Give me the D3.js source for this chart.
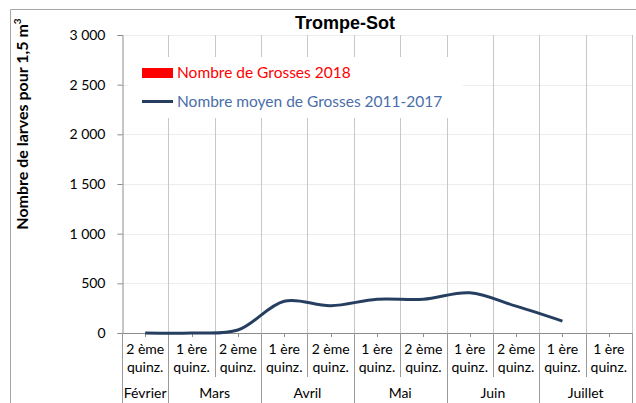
<!DOCTYPE html>
<html>
<head>
<meta charset="utf-8">
<script src="https://cdn.jsdelivr.net/npm/d3@7"></script>
<style>
  html, body { margin: 0; padding: 0; background: #fff; }
  svg { display: block; }
</style>
</head>
<body>
<svg id="chart" width="636" height="403"></svg>
<script>
// Quinzaine labels (first line / second line) for each category
const quinzaines = ["2 ème", "1 ère", "2 ème", "1 ère", "2 ème", "1 ère", "2 ème", "1 ère", "2 ème", "1 ère", "1 ère"];
const quinzSuffix = "quinz.";
// Months grouping the categories
const months = ["Février", "Mars", "Avril", "Mai", "Juin", "Juillet"];
const monthSpans = [1, 2, 2, 2, 2, 2];
// Series
const grosses2018 = [null, null, null, null, null, null, null, null, null, null, null];
const moyenne2011_2017 = [0, 0, 30, 320, 275, 340, 340, 405, 270, 120, null];
// Value axis ticks
const yTicks = [0, 500, 1000, 1500, 2000, 2500, 3000];

(function () {
const svg = d3.select("#chart");
const plotLeft = 122, plotRight = 632, plotTop = 35, plotBottom = 333;

const x = d3.scaleBand().domain(d3.range(quinzaines.length)).range([plotLeft, plotRight]).padding(0);
const y = d3.scaleLinear().domain([0, 3000]).range([plotBottom, plotTop]);

const fr = d3.formatLocale({ decimal: ",", thousands: " ", grouping: [3], currency: ["", " €"] });
const fmt = fr.format(",d");

const labelFont = "Lato, 'DejaVu Sans', sans-serif";

// Outer frame (left and top edges)
svg.append("path")
  .attr("d", "M10.5,410 V9.5 H636")
  .attr("fill", "none").attr("stroke", "#a6a6a6").attr("stroke-width", 1);

// Horizontal gridlines
svg.append("g")
  .selectAll("line").data(yTicks.filter(d => d > 0)).join("line")
  .attr("x1", plotLeft).attr("x2", plotRight)
  .attr("y1", d => Math.round(y(d)) + 0.5).attr("y2", d => Math.round(y(d)) + 0.5)
  .attr("stroke", "#ececec");

// Vertical gridlines at category boundaries
const bounds = d3.range(quinzaines.length + 1).map(i => plotLeft + i * x.bandwidth());
svg.append("g")
  .selectAll("line").data(bounds.slice(1)).join("line")
  .attr("x1", d => Math.round(d) + 0.5).attr("x2", d => Math.round(d) + 0.5)
  .attr("y1", plotTop).attr("y2", plotBottom)
  .attr("stroke", "#c8c8c8");

// Bars for 2018 (categories with a value)
svg.append("g")
  .selectAll("rect").data(grosses2018.map((v, i) => ({ v, i })).filter(d => d.v != null)).join("rect")
  .attr("x", d => x(d.i) + x.bandwidth() * 0.2)
  .attr("width", x.bandwidth() * 0.6)
  .attr("y", d => y(d.v))
  .attr("height", d => y(0) - y(d.v))
  .attr("fill", "#ff0000");

// Value axis
const yAxis = d3.axisLeft(y).tickValues(yTicks).tickFormat(fmt).tickSize(5).tickPadding(12);
const gy = svg.append("g").attr("transform", `translate(${plotLeft + 0.5},0)`).call(yAxis);
gy.select(".domain").attr("stroke", "#8c8c8c");
gy.selectAll(".tick line").attr("stroke", "#8c8c8c");
gy.selectAll(".tick text")
  .attr("font-family", labelFont).attr("font-size", 14).attr("fill", "#000");

// Category axis line and small ticks at category centres
svg.append("line")
  .attr("x1", plotLeft).attr("x2", plotRight)
  .attr("y1", plotBottom + 0.5).attr("y2", plotBottom + 0.5)
  .attr("stroke", "#8c8c8c");
svg.append("g")
  .selectAll("line").data(d3.range(quinzaines.length)).join("line")
  .attr("x1", i => Math.round(x(i) + x.bandwidth() / 2) + 0.5)
  .attr("x2", i => Math.round(x(i) + x.bandwidth() / 2) + 0.5)
  .attr("y1", plotBottom).attr("y2", plotBottom + 4)
  .attr("stroke", "#8c8c8c");

// Separators in the label area
const monthStarts = monthSpans.reduce((acc, s) => { acc.push(acc[acc.length - 1] + s); return acc; }, [0]);
svg.append("g")
  .selectAll("line").data(d3.range(quinzaines.length + 1)).join("line")
  .attr("x1", i => Math.round(bounds[i]) + 0.5).attr("x2", i => Math.round(bounds[i]) + 0.5)
  .attr("y1", plotBottom).attr("y2", i => monthStarts.includes(i) ? 403 : 377)
  .attr("stroke", "#9a9a9a");

// Quinzaine labels
const ql = svg.append("g").attr("font-family", labelFont).attr("font-size", 14)
  .attr("fill", "#000").attr("text-anchor", "middle");
ql.selectAll("text.l1").data(quinzaines).join("text").attr("class", "l1")
  .attr("x", (d, i) => x(i) + x.bandwidth() / 2).attr("y", 354).text(d => d);
ql.selectAll("text.l2").data(quinzaines).join("text").attr("class", "l2")
  .attr("x", (d, i) => x(i) + x.bandwidth() / 2).attr("y", 372).text(quinzSuffix);

// Month labels
ql.selectAll("text.m").data(months).join("text").attr("class", "m")
  .attr("x", (d, i) => (bounds[monthStarts[i]] + bounds[monthStarts[i + 1]]) / 2)
  .attr("y", 398).text(d => d);

// Average line
const line = d3.line()
  .defined(d => d != null)
  .x((d, i) => x(i) + x.bandwidth() / 2)
  .y(d => y(d))
  .curve(d3.curveCatmullRom.alpha(0.5));
svg.append("path")
  .datum(moyenne2011_2017)
  .attr("d", line)
  .attr("fill", "none")
  .attr("stroke", "#263f61")
  .attr("stroke-width", 3)
  .attr("stroke-linecap", "butt");

// Legend
const lg = svg.append("g");
lg.append("rect").attr("x", 128).attr("y", 57).attr("width", 335).attr("height", 61).attr("fill", "#fff");
lg.append("rect").attr("x", 142).attr("y", 68).attr("width", 31).attr("height", 10).attr("fill", "#ff0000");
lg.append("text").attr("x", 177).attr("y", 78).attr("font-family", labelFont).attr("font-size", 15.5)
  .attr("fill", "#ff0000").text("Nombre de Grosses 2018");
lg.append("line").attr("x1", 142).attr("x2", 173).attr("y1", 101.5).attr("y2", 101.5)
  .attr("stroke", "#263f61").attr("stroke-width", 3);
lg.append("text").attr("x", 177).attr("y", 107).attr("font-family", labelFont).attr("font-size", 15.5)
  .attr("fill", "#4a6ea8").text("Nombre moyen de Grosses 2011-2017");

// Title
svg.append("text")
  .attr("x", 345).attr("y", 29)
  .attr("text-anchor", "middle")
  .attr("font-family", "'Liberation Sans', Arial, sans-serif")
  .attr("font-weight", "bold").attr("font-size", 18)
  .text("Trompe-Sot");

// Value axis title
const yt = svg.append("text")
  .attr("transform", "translate(28,124) rotate(-90)")
  .attr("text-anchor", "middle")
  .attr("font-family", labelFont).attr("font-weight", "bold").attr("font-size", 16)
  .attr("fill", "#000");
yt.append("tspan").text("Nombre de larves pour 1,5 m");
yt.append("tspan").attr("dy", -7).attr("font-size", 10).text("3");
})();
</script>
</body>
</html>
